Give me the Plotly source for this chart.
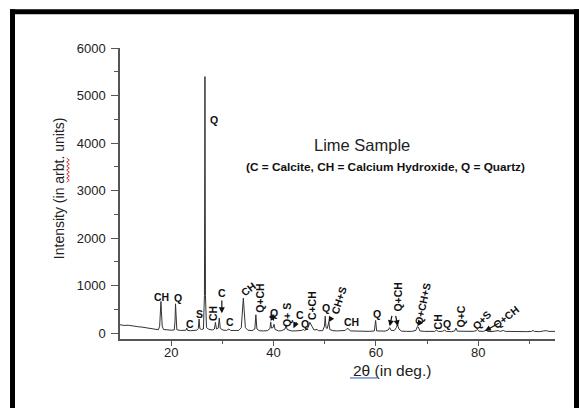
import plotly.graph_objects as go

two_theta = [10.0, 10.8, 11.6, 12.5, 13.4, 14.3, 15.2, 16.0, 16.8, 17.5,
             17.75, 17.9, 18.0, 18.1, 18.25, 18.5, 19.2, 20.0, 20.6, 20.75,
             20.85, 20.95, 21.1, 21.8, 22.5, 22.9, 23.05, 23.2, 23.8, 24.3,
             25.0, 25.3, 25.45, 25.6, 25.9, 26.3, 26.5, 26.6, 26.7, 26.9,
             27.4, 28.0, 28.45, 28.65, 28.85, 29.2, 29.4, 29.6, 30.1, 30.8,
             31.3, 31.6, 32.4, 33.2, 33.7, 33.95, 34.1, 34.25, 34.5, 35.0,
             35.8, 36.35, 36.55, 36.75, 37.2, 38.0, 38.8, 39.3, 39.45, 39.6,
             39.9, 40.1, 40.3, 41.0, 41.6, 42.25, 42.45, 42.65, 43.2, 43.5,
             44.2, 44.8, 45.5, 45.8, 46.1, 46.7, 47.1, 47.5, 47.9, 48.5,
             48.8, 49.6, 49.95, 50.1, 50.25, 50.5, 50.8, 51.0, 51.6, 52.5,
             53.4, 54.0, 54.35, 54.7, 55.0, 56.0, 57.0, 57.8, 58.8, 59.7,
             59.95, 60.15, 61.0, 61.8, 62.4, 62.7, 63.0, 63.6, 64.0, 64.2,
             64.5, 65.0, 66.0, 67.0, 67.8, 68.1, 68.3, 68.6, 69.5, 70.5,
             71.5, 71.8, 72.2, 73.0, 73.4, 73.8, 74.8, 75.4, 75.65, 75.9,
             77.0, 78.0, 79.0, 79.6, 79.85, 80.1, 81.0, 81.5, 81.9, 82.5,
             83.6, 83.9, 84.3, 84.9, 85.3, 86.5, 87.5, 88.5, 89.5, 90.4,
             90.7, 91.0, 92.0, 92.8, 93.3, 93.8, 94.5, 95.0]
intensity = [180, 165, 170, 150, 140, 130, 115, 95, 80, 75,
             150, 450, 670, 450, 150, 80, 70, 65, 70, 250,
             620, 250, 75, 60, 55, 65, 110, 60, 55, 60,
             65, 100, 300, 100, 80, 90, 800, 5400, 800, 120,
             80, 70, 90, 230, 90, 110, 320, 100, 70, 60,
             90, 60, 55, 60, 120, 500, 740, 500, 120, 65,
             55, 90, 390, 90, 55, 50, 55, 100, 240, 110,
             120, 190, 80, 50, 55, 90, 180, 80, 65, 50,
             50, 55, 60, 80, 60, 110, 230, 150, 70, 80,
             55, 55, 150, 360, 120, 100, 240, 80, 55, 50,
             50, 60, 100, 90, 50, 45, 40, 45, 40, 50,
             270, 50, 40, 45, 70, 120, 60, 60, 120, 190,
             90, 45, 40, 40, 60, 140, 130, 50, 40, 35,
             40, 70, 40, 40, 65, 40, 35, 50, 110, 45,
             40, 35, 40, 55, 85, 45, 40, 65, 40, 35,
             40, 55, 40, 60, 40, 35, 40, 35, 35, 40,
             60, 40, 35, 50, 55, 40, 35, 40]

# peak labels: text, 2theta, intensity, text angle
label_text = ["CH", "Q", "C", "S", "Q", "CH", "C", "C", "CH", "Q+CH",
              "Q", "Q+ S", "C", "Q", "C+CH", "Q", "CH+S", "CH", "Q", "Q+CH",
              "Q+CH+S", "CH", "Q", "Q+C", "Q+S", "Q+CH"]
label_x = [18.1, 21.4, 23.75, 25.55, 28.4, 28.3, 29.9, 31.5, 35.1, 37.45,
           40.1, 42.65, 45.2, 46.2, 47.55, 50.2, 52.7, 55.3, 60.2, 64.3,
           69.2, 72.1, 73.9, 76.6, 80.7, 85.4]
label_y = [770, 735, 190, 405, 4480, 420, 840, 245, 925, 735,
           420, 385, 390, 195, 575, 525, 680, 230, 405, 770,
           630, 245, 195, 350, 280, 350]
label_angle = [0, 0, 0, 0, 0, -90, 0, 0, -38, -90,
               0, -90, 0, 0, -90, 0, -72, 0, 0, -90,
               -78, -90, 0, -90, -45, -38]

# arrows: head (2theta, intensity) and tail (2theta, intensity)
arrow_head_x = [29.9, 43.9, 50.75, 62.7, 64.3, 68.1, 81.3, 39.45, 40.1]
arrow_head_y = [420, 105, 230, 150, 150, 150, 50, 260, 260]
arrow_tail_x = [29.9, 44.6, 51.3, 63.2, 63.8, 68.6, 84.3, 39.75, 39.8]
arrow_tail_y = [720, 270, 330, 400, 400, 230, 230, 330, 330]

FONT = "Liberation Sans, Arial, sans-serif"

fig = go.Figure()
fig.add_trace(go.Scatter(x=two_theta, y=intensity, mode="lines",
                         line=dict(color="#333333", width=1),
                         showlegend=False, hoverinfo="skip"))

# plot geometry in pixels (for paper conversions)
L, R, T, B = 120, 555, 47.7, 339.0
def px(xp):
    return (xp - L) / (R - L)
def py(yp):
    return (B - yp) / (B - T)

annotations = []
for t, x, y, a in zip(label_text, label_x, label_y, label_angle):
    annotations.append(dict(x=x, y=y, xref="x", yref="y", text="<b>%s</b>" % t,
                            showarrow=False, textangle=a,
                            xanchor="center", yanchor="middle",
                            font=dict(family=FONT, size=10.5, color="#111111")))
for hx, hy, tx, ty in zip(arrow_head_x, arrow_head_y, arrow_tail_x, arrow_tail_y):
    annotations.append(dict(x=hx, y=hy, xref="x", yref="y", ax=tx, ay=ty,
                            axref="x", ayref="y", text="", showarrow=True,
                            arrowhead=2, arrowsize=1, arrowwidth=1.2,
                            arrowcolor="#111111"))

annotations += [
    dict(x=px(362), y=py(145), xref="paper", yref="paper", text="Lime Sample",
         xanchor="center", yanchor="middle", showarrow=False,
         font=dict(family=FONT, size=16.5, color="#222222")),
    dict(x=px(385), y=py(167), xref="paper", yref="paper",
         text="<b>(C = Calcite, CH = Calcium Hydroxide, Q = Quartz)</b>",
         xanchor="center", yanchor="middle", showarrow=False,
         font=dict(family=FONT, size=11.8, color="#111111")),
    dict(x=px(59), y=py(188), xref="paper", yref="paper",
         text="Intensity (in arbt. units)", textangle=-90, showarrow=False,
         xanchor="center", yanchor="middle",
         font=dict(family=FONT, size=14, color="#222222")),
    dict(x=px(392), y=py(371), xref="paper", yref="paper",
         text="2θ (in deg.)", showarrow=False,
         xanchor="center", yanchor="middle",
         font=dict(family=FONT, size=15.5, color="#222222")),
]

# red spell-check squiggle under "arbt." and blue underline under "2θ"
sq = []
yy = 158.0
k = 0
while yy <= 182:
    xx = 68.0 + (1.3 if k % 2 else -1.3)
    sq.append((px(xx), py(yy)))
    yy += 2.0
    k += 1
path = "M " + " L ".join("%f,%f" % p for p in sq)

shapes = [
    dict(type="path", path=path, xref="paper", yref="paper",
         line=dict(color="#e03030", width=1)),
    dict(type="line", x0=px(350), x1=px(377), y0=py(378), y1=py(378),
         xref="paper", yref="paper", line=dict(color="#4a74c8", width=1.2)),
    # thick black frame
    dict(type="line", x0=px(12.5), x1=px(12.5), y0=py(9), y1=py(420),
         xref="paper", yref="paper", line=dict(color="black", width=5)),
    dict(type="line", x0=px(10), x1=px(585), y0=py(11.5), y1=py(11.5),
         xref="paper", yref="paper", line=dict(color="black", width=5)),
    dict(type="line", x0=px(576.5), x1=px(576.5), y0=py(9), y1=py(420),
         xref="paper", yref="paper", line=dict(color="black", width=5)),
]

fig.update_layout(
    width=579, height=408,
    margin=dict(l=L, r=579 - R, t=T, b=408 - B),
    paper_bgcolor="white", plot_bgcolor="white",
    showlegend=False,
    annotations=annotations, shapes=shapes,
    xaxis=dict(range=[10, 95], tickmode="array", tickvals=[20, 40, 60, 80],
               showgrid=False, zeroline=False, showline=True,
               linecolor="#555555", linewidth=1.5,
               ticks="outside", ticklen=5, tickwidth=1, tickcolor="#555555",
               minor=dict(tickvals=[30, 50, 70, 90], ticks="outside", ticklen=3,
                          tickcolor="#555555", showgrid=False),
               ticklabelstandoff=-4,
               tickfont=dict(family=FONT, size=13, color="#222222")),
    yaxis=dict(range=[-120, 6000], tickvals=[0, 1000, 2000, 3000, 4000, 5000, 6000],
               showgrid=False, zeroline=False, showline=True,
               linecolor="#555555", linewidth=1.5,
               ticks="outside", ticklen=7, tickwidth=1, tickcolor="#555555",
               minor=dict(tickvals=[500, 1500, 2500, 3500, 4500, 5500],
                          ticks="outside", ticklen=4, tickcolor="#555555",
                          showgrid=False),
               ticklabelstandoff=3,
               tickfont=dict(family=FONT, size=13, color="#222222")),
)

fig.write_html("out.html", config={"displayModeBar": False},
               post_script="document.body.style.margin='0px';document.body.style.padding='0px';")
